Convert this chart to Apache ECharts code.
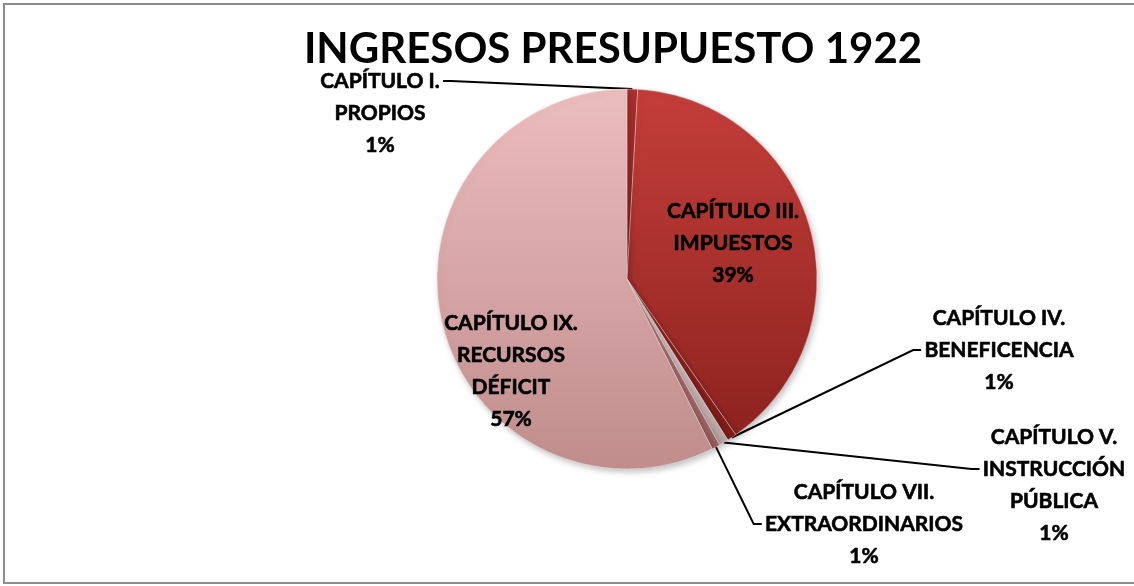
<!DOCTYPE html>
<html lang="es">
<head>
  <meta charset="UTF-8" />
  <title>Ingresos presupuesto 1922</title>
  <script src="https://cdn.jsdelivr.net/npm/echarts@6.0.0/dist/echarts.min.js"></script>
  <style>
    html, body { margin: 0; padding: 0; background: #fff; overflow: hidden; }
    #chart-container {
      position: absolute; left: 3px; top: 3px;
      width: 1200px; height: 581px;
      border: 2px solid #8c8c8c; border-right: none; box-sizing: border-box;
    }
  </style>
</head>
<body>
  <div id="chart-container"></div>
  <script>
    // capitulos de ingresos (porcentaje del total)
    var categories = [
      "CAPÍTULO I.\nPROPIOS",
      "CAPÍTULO III.\nIMPUESTOS",
      "CAPÍTULO IV.\nBENEFICENCIA",
      "CAPÍTULO V.\nINSTRUCCIÓN\nPÚBLICA",
      "CAPÍTULO VII.\nEXTRAORDINARIOS",
      "CAPÍTULO IX.\nRECURSOS\nDÉFICIT"
    ];
    var values = [0.9, 39.4, 0.8, 0.8, 0.7, 57.4];

    var sliceColors = [
      ["#b0322e", "#8c221e"],
      ["#c43e3a", "#8e231f"],
      ["#9a2824", "#7e1c19"],
      ["#e2d2d2", "#b8a4a4"],
      ["#c07c7c", "#9a5c5c"],
      ["#ecbdbd", "#c08c8c"]
    ];

    // label block centres, and which side / line the leader line meets
    var labelSpots = [
      [375, 108], [728, 238], [994, 345], [1049, 480], [859, 519], [506, 366]
    ];
    var leaderSide = ["right", null, "left", "left", "left", null];
    var leaderRow = [0, 0, 1, 1, 1, 0];
    var LINE_H = 32;

    var chart = echarts.init(document.getElementById("chart-container"));

    var data = values.map(function (v, i) {
      var inside = leaderSide[i] === null;
      return {
        name: categories[i],
        value: v,
        itemStyle: {
          color: {
            type: "linear", x: 0, y: 0, x2: 0, y2: 1,
            colorStops: [
              { offset: 0, color: sliceColors[i][0] },
              { offset: 1, color: sliceColors[i][1] }
            ]
          }
        },
        label: { position: inside ? "inside" : "outside" },
        labelLine: { show: !inside }
      };
    });

    chart.setOption({
      animation: false,
      title: {
        text: "INGRESOS PRESUPUESTO 1922",
        left: 603,
        top: 18,
        textAlign: "center",
        textStyle: {
          fontFamily: "Lato",
          fontWeight: "bold",
          fontSize: 42,
          color: "#000"
        }
      },
      series: [
        {
          type: "pie",
          center: [622, 274],
          radius: 190,
          startAngle: 90,
          clockwise: true,
          percentPrecision: 0,
          itemStyle: {
            borderColor: "rgba(255,255,255,0.35)",
            borderWidth: 1,
            shadowBlur: 6,
            shadowColor: "rgba(0,0,0,0.25)",
            shadowOffsetX: 2,
            shadowOffsetY: 3
          },
          label: {
            formatter: "{b}\n{d}%",
            fontFamily: "Lato",
            fontWeight: "bold",
            fontSize: 21,
            lineHeight: LINE_H,
            color: "#000",
            textBorderColor: "#000",
            textBorderWidth: 0.6,
            align: "center"
          },
          labelLine: {
            lineStyle: { color: "#000", width: 2 },
            length: 20,
            length2: 8
          },
          labelLayout: function (params) {
            var i = params.dataIndex;
            var p = labelSpots[i];
            var out = { x: p[0], y: p[1], align: "center", verticalAlign: "middle" };
            var side = leaderSide[i];
            if (side && params.labelLinePoints) {
              var r = params.labelRect;
              var top = p[1] - r.height / 2;
              var ly = top + LINE_H * (leaderRow[i] + 0.5);
              var ex = side === "left" ? p[0] - r.width / 2 - 3 : p[0] + r.width / 2 + 3;
              var bx = side === "left" ? ex - 8 : ex + 8;
              out.labelLinePoints = [params.labelLinePoints[0], [bx, ly], [ex, ly]];
            }
            return out;
          },
          data: data
        }
      ]
    });
  </script>
</body>
</html>
